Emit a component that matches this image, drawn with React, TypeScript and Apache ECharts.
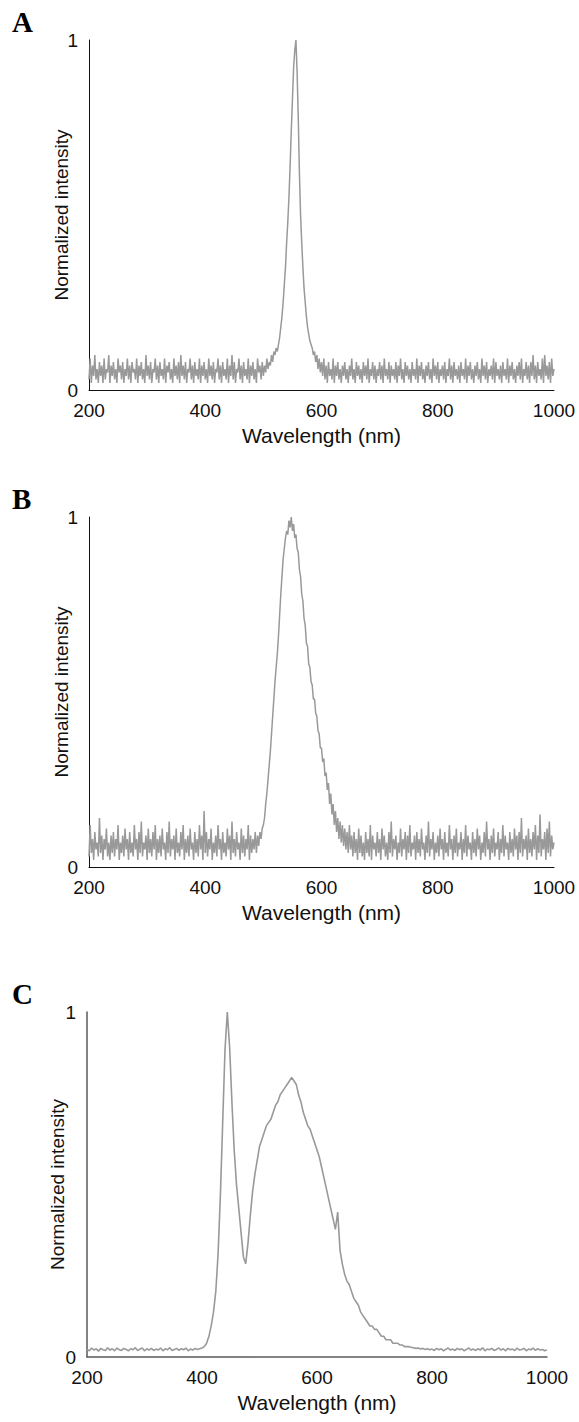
import React, { useEffect, useRef } from "react";
import * as echarts from "echarts";

// Sampling grids of the spectra (nm)
const START_NM = 200;
const STEP_AB_NM = 2;
const STEP_C_NM = 4;

const X_TICKS = [200, 400, 600, 800, 1000];
const Y_TICKS = [0, 1];
const PANEL_LABELS = ["A", "B", "C"];
const X_TITLE = "Wavelength (nm)";
const Y_TITLE = "Normalized intensity";

// Panel A: narrow emission peak near 556 nm (2 nm steps)
const SPECTRUM_A = [
  0.03, 0.09, 0.02, 0.07, 0.04, 0.10, 0.03, 0.06, 0.02, 0.08, 0.04, 0.07, 0.02, 0.09, 0.03, 0.06, 0.05, 0.10, 0.02, 0.07,
  0.04, 0.08, 0.03, 0.06, 0.02, 0.09, 0.05, 0.07, 0.03, 0.08, 0.02, 0.06, 0.04, 0.09, 0.03, 0.07, 0.02, 0.08, 0.05, 0.06,
  0.03, 0.09, 0.02, 0.07, 0.04, 0.08, 0.03, 0.06, 0.02, 0.10, 0.04, 0.07, 0.03, 0.08, 0.02, 0.06, 0.05, 0.09, 0.03, 0.07,
  0.02, 0.08, 0.04, 0.06, 0.03, 0.09, 0.02, 0.07, 0.05, 0.08, 0.03, 0.06, 0.02, 0.09, 0.04, 0.07, 0.03, 0.08, 0.02, 0.10,
  0.04, 0.07, 0.03, 0.08, 0.02, 0.06, 0.05, 0.09, 0.03, 0.07, 0.02, 0.08, 0.04, 0.06, 0.03, 0.09, 0.02, 0.07, 0.04, 0.08,
  0.03, 0.06, 0.02, 0.09, 0.04, 0.07, 0.03, 0.08, 0.02, 0.06, 0.05, 0.09, 0.03, 0.07, 0.02, 0.08, 0.04, 0.06, 0.03, 0.09,
  0.02, 0.07, 0.04, 0.10, 0.03, 0.08, 0.02, 0.06, 0.05, 0.09, 0.03, 0.07, 0.02, 0.08, 0.04, 0.06, 0.03, 0.09, 0.02, 0.07,
  0.04, 0.08, 0.03, 0.06, 0.02, 0.09, 0.05, 0.07, 0.03, 0.08, 0.04, 0.07, 0.05, 0.09, 0.06, 0.08, 0.07, 0.10, 0.08, 0.11,
  0.10, 0.12, 0.11, 0.13, 0.15, 0.18, 0.21, 0.25, 0.30, 0.35, 0.42, 0.48, 0.55, 0.64, 0.74, 0.83, 0.92, 0.97, 1.00, 0.91,
  0.78, 0.62, 0.50, 0.42, 0.35, 0.29, 0.25, 0.21, 0.18, 0.16, 0.14, 0.13, 0.12, 0.10, 0.11, 0.08, 0.10, 0.06, 0.09, 0.05,
  0.08, 0.04, 0.09, 0.03, 0.07, 0.02, 0.08, 0.04, 0.06, 0.03, 0.09, 0.02, 0.07, 0.04, 0.08, 0.03, 0.06, 0.02, 0.07, 0.04,
  0.08, 0.03, 0.06, 0.02, 0.07, 0.04, 0.09, 0.03, 0.06, 0.02, 0.08, 0.04, 0.07, 0.03, 0.06, 0.02, 0.08, 0.04, 0.07, 0.03,
  0.09, 0.02, 0.06, 0.04, 0.08, 0.03, 0.07, 0.02, 0.06, 0.04, 0.08, 0.03, 0.07, 0.02, 0.09, 0.04, 0.06, 0.03, 0.08, 0.02,
  0.07, 0.04, 0.06, 0.03, 0.08, 0.02, 0.07, 0.04, 0.09, 0.03, 0.06, 0.02, 0.08, 0.04, 0.07, 0.03, 0.06, 0.02, 0.08, 0.04,
  0.06, 0.03, 0.09, 0.02, 0.07, 0.04, 0.08, 0.03, 0.06, 0.02, 0.07, 0.04, 0.08, 0.03, 0.06, 0.02, 0.09, 0.04, 0.07, 0.03,
  0.08, 0.02, 0.06, 0.04, 0.07, 0.03, 0.08, 0.02, 0.06, 0.04, 0.09, 0.03, 0.07, 0.02, 0.08, 0.04, 0.06, 0.03, 0.07, 0.02,
  0.08, 0.04, 0.06, 0.03, 0.09, 0.02, 0.07, 0.04, 0.08, 0.03, 0.06, 0.02, 0.07, 0.04, 0.08, 0.03, 0.06, 0.02, 0.09, 0.04,
  0.07, 0.03, 0.08, 0.02, 0.06, 0.04, 0.07, 0.03, 0.09, 0.02, 0.08, 0.04, 0.06, 0.03, 0.07, 0.02, 0.08, 0.04, 0.06, 0.03,
  0.09, 0.02, 0.07, 0.04, 0.08, 0.03, 0.06, 0.02, 0.07, 0.04, 0.08, 0.03, 0.09, 0.02, 0.06, 0.04, 0.08, 0.03, 0.07, 0.02,
  0.08, 0.04, 0.10, 0.03, 0.07, 0.02, 0.08, 0.04, 0.06, 0.03, 0.09, 0.02, 0.10, 0.04, 0.07, 0.03, 0.08, 0.02, 0.09, 0.04,
  0.06,
];

// Panel B: broader asymmetric peak near 548 nm, noisier baseline (2 nm steps)
const SPECTRUM_B = [
  0.03, 0.12, 0.04, 0.08, 0.02, 0.10, 0.05, 0.07, 0.03, 0.14, 0.04, 0.09, 0.02, 0.08, 0.05, 0.11, 0.03, 0.07, 0.02, 0.09,
  0.04, 0.10, 0.03, 0.08, 0.05, 0.12, 0.02, 0.07, 0.04, 0.09, 0.03, 0.11, 0.05, 0.08, 0.02, 0.10, 0.04, 0.07, 0.03, 0.12,
  0.05, 0.08, 0.02, 0.10, 0.04, 0.13, 0.03, 0.07, 0.05, 0.09, 0.02, 0.11, 0.04, 0.08, 0.03, 0.10, 0.05, 0.12, 0.02, 0.08,
  0.04, 0.09, 0.03, 0.11, 0.05, 0.07, 0.02, 0.10, 0.04, 0.13, 0.03, 0.08, 0.05, 0.09, 0.02, 0.11, 0.04, 0.07, 0.03, 0.10,
  0.05, 0.12, 0.02, 0.08, 0.04, 0.09, 0.03, 0.11, 0.05, 0.07, 0.02, 0.10, 0.04, 0.08, 0.03, 0.12, 0.05, 0.09, 0.02, 0.16,
  0.04, 0.10, 0.03, 0.08, 0.05, 0.11, 0.02, 0.07, 0.04, 0.09, 0.03, 0.12, 0.05, 0.08, 0.02, 0.10, 0.04, 0.07, 0.03, 0.11,
  0.05, 0.09, 0.02, 0.13, 0.04, 0.08, 0.03, 0.10, 0.05, 0.07, 0.02, 0.11, 0.04, 0.09, 0.03, 0.08, 0.05, 0.12, 0.02, 0.09,
  0.04, 0.08, 0.05, 0.10, 0.04, 0.09, 0.06, 0.10, 0.08, 0.11, 0.12, 0.14, 0.18, 0.21, 0.25, 0.29, 0.33, 0.38, 0.43, 0.48,
  0.53, 0.57, 0.61, 0.66, 0.72, 0.78, 0.83, 0.88, 0.91, 0.94, 0.96, 0.95, 0.99, 0.97, 1.00, 0.96, 0.98, 0.94, 0.95, 0.91,
  0.90, 0.85, 0.83, 0.78, 0.76, 0.71, 0.69, 0.64, 0.63, 0.58, 0.57, 0.53, 0.52, 0.48, 0.48, 0.44, 0.43, 0.39, 0.38, 0.34,
  0.34, 0.30, 0.31, 0.26, 0.27, 0.22, 0.24, 0.18, 0.21, 0.15, 0.18, 0.12, 0.16, 0.10, 0.14, 0.08, 0.13, 0.07, 0.12, 0.06,
  0.11, 0.05, 0.10, 0.04, 0.12, 0.05, 0.09, 0.03, 0.10, 0.04, 0.08, 0.02, 0.11, 0.04, 0.09, 0.03, 0.07, 0.02, 0.10, 0.04,
  0.08, 0.03, 0.12, 0.02, 0.09, 0.05, 0.07, 0.03, 0.10, 0.04, 0.08, 0.02, 0.11, 0.05, 0.09, 0.03, 0.07, 0.02, 0.10, 0.04,
  0.13, 0.03, 0.08, 0.05, 0.09, 0.02, 0.07, 0.04, 0.11, 0.03, 0.08, 0.05, 0.10, 0.02, 0.09, 0.04, 0.12, 0.03, 0.07, 0.05,
  0.09, 0.02, 0.10, 0.04, 0.08, 0.03, 0.11, 0.05, 0.07, 0.02, 0.09, 0.04, 0.13, 0.03, 0.08, 0.05, 0.10, 0.02, 0.07, 0.04,
  0.09, 0.03, 0.11, 0.05, 0.08, 0.02, 0.10, 0.04, 0.07, 0.03, 0.12, 0.05, 0.08, 0.02, 0.09, 0.04, 0.11, 0.03, 0.07, 0.05,
  0.10, 0.02, 0.08, 0.04, 0.12, 0.03, 0.09, 0.05, 0.07, 0.02, 0.10, 0.04, 0.08, 0.03, 0.11, 0.05, 0.09, 0.02, 0.07, 0.04,
  0.10, 0.03, 0.13, 0.05, 0.08, 0.02, 0.09, 0.04, 0.11, 0.03, 0.07, 0.05, 0.10, 0.02, 0.08, 0.04, 0.12, 0.03, 0.09, 0.05,
  0.07, 0.02, 0.10, 0.04, 0.08, 0.03, 0.11, 0.05, 0.09, 0.02, 0.10, 0.04, 0.14, 0.03, 0.08, 0.05, 0.09, 0.02, 0.11, 0.04,
  0.08, 0.03, 0.10, 0.05, 0.12, 0.02, 0.09, 0.04, 0.15, 0.03, 0.08, 0.05, 0.10, 0.02, 0.11, 0.04, 0.13, 0.03, 0.09, 0.05,
  0.07,
];

// Panel C: blue peak near 444 nm plus broad band near 556 nm (4 nm steps)
const SPECTRUM_C = [
  0.022, 0.018, 0.026, 0.02, 0.024, 0.017, 0.025, 0.021, 0.019, 0.027,
  0.02, 0.024, 0.018, 0.026, 0.021, 0.019, 0.025, 0.022, 0.018, 0.024,
  0.021, 0.027, 0.019, 0.023, 0.026, 0.018, 0.024, 0.02, 0.025, 0.019,
  0.023, 0.02, 0.026, 0.018, 0.024, 0.021, 0.027, 0.019, 0.022, 0.025,
  0.019, 0.024, 0.021, 0.026, 0.018, 0.023, 0.02, 0.025, 0.022, 0.024,
  0.026, 0.03, 0.04, 0.06, 0.09, 0.13, 0.19, 0.30, 0.47, 0.68,
  0.89, 1.00, 0.90, 0.74, 0.60, 0.50, 0.43, 0.36, 0.29, 0.27,
  0.33, 0.41, 0.48, 0.53, 0.57, 0.61, 0.63, 0.65, 0.67, 0.68,
  0.69, 0.71, 0.73, 0.74, 0.76, 0.77, 0.78, 0.79, 0.80, 0.81,
  0.80, 0.79, 0.76, 0.74, 0.71, 0.69, 0.67, 0.66, 0.64, 0.62,
  0.60, 0.58, 0.55, 0.52, 0.49, 0.46, 0.43, 0.40, 0.37, 0.42,
  0.31, 0.27, 0.24, 0.22, 0.21, 0.19, 0.17, 0.16, 0.15, 0.13,
  0.12, 0.11, 0.10, 0.09, 0.09, 0.08, 0.08, 0.07, 0.06, 0.06,
  0.05, 0.05, 0.05, 0.04, 0.04, 0.04, 0.035, 0.035, 0.03, 0.03,
  0.03, 0.028, 0.027, 0.025, 0.026, 0.023, 0.025, 0.022, 0.024, 0.021,
  0.023, 0.019, 0.025, 0.021, 0.024, 0.018, 0.022, 0.026, 0.02, 0.023,
  0.019, 0.025, 0.021, 0.024, 0.018, 0.022, 0.026, 0.02, 0.023, 0.019,
  0.024, 0.02, 0.027, 0.018, 0.023, 0.021, 0.025, 0.019, 0.022, 0.026,
  0.02, 0.024, 0.018, 0.025, 0.021, 0.023, 0.019, 0.026, 0.02, 0.022,
  0.025, 0.018, 0.023, 0.021, 0.026, 0.019, 0.024, 0.02, 0.022, 0.018,
  0.02,
];

const SPECTRA = [SPECTRUM_A, SPECTRUM_B, SPECTRUM_C];
const STEPS = [STEP_AB_NM, STEP_AB_NM, STEP_C_NM];

function toPairs(values: number[], step: number) {
  return values.map((v, i) => [START_NM + i * step, v]);
}

const LAYOUT = [
  { left: 89, top: 40, width: 465, height: 350, axisColor: "#111", axisWidth: 1, lineWidth: 1.5, letterY: 22, yGap: 18 },
  { left: 89, top: 517, width: 465, height: 350, axisColor: "#111", axisWidth: 1, lineWidth: 1.5, letterY: 499, yGap: 18 },
  { left: 87, top: 1012, width: 460, height: 345, axisColor: "#5a5a5a", axisWidth: 1.5, lineWidth: 1.6, letterY: 994, yGap: 20 },
];

const SANS = "Liberation Sans, Arial, sans-serif";
const SERIF = "Liberation Serif, Times New Roman, serif";

export default function App() {
  const ref = useRef<HTMLDivElement>(null);

  useEffect(() => {
    if (!ref.current) return;
    const chart = echarts.init(ref.current, undefined, { renderer: "svg" });

    const grid = LAYOUT.map((p) => ({
      left: p.left,
      top: p.top,
      width: p.width,
      height: p.height,
      containLabel: false,
    }));

    const xAxis = LAYOUT.map((p, i) => ({
      gridIndex: i,
      type: "value",
      min: X_TICKS[0],
      max: X_TICKS[X_TICKS.length - 1],
      interval: X_TICKS[1] - X_TICKS[0],
      axisLine: { show: true, onZero: false, lineStyle: { color: p.axisColor, width: p.axisWidth } },
      axisTick: { show: false },
      splitLine: { show: false },
      axisLabel: {
        fontSize: 19,
        color: "#111",
        margin: 11,
        fontFamily: SANS,
        formatter: (v: number) => String(v),
      },
      name: X_TITLE,
      nameLocation: "middle",
      nameGap: 35,
      nameTextStyle: { fontSize: 21, color: "#111", fontFamily: SANS },
    }));

    const yAxis = LAYOUT.map((p, i) => ({
      gridIndex: i,
      type: "value",
      min: Y_TICKS[0],
      max: Y_TICKS[Y_TICKS.length - 1],
      interval: Y_TICKS[1] - Y_TICKS[0],
      axisLine: { show: true, onZero: false, lineStyle: { color: p.axisColor, width: p.axisWidth } },
      axisTick: { show: false },
      splitLine: { show: false },
      axisLabel: { fontSize: 19, color: "#111", margin: 11, fontFamily: SANS },
      name: Y_TITLE,
      nameLocation: "middle",
      nameGap: p.yGap,
      nameMoveOverlap: false,
      nameRotate: 90,
      nameTextStyle: { fontSize: 19, color: "#111", fontFamily: SANS },
    }));

    const series = SPECTRA.map((values, i) => ({
      type: "line",
      xAxisIndex: i,
      yAxisIndex: i,
      data: toPairs(values, STEPS[i]),
      showSymbol: false,
      symbol: "none",
      lineStyle: { color: "#999999", width: LAYOUT[i].lineWidth },
      silent: true,
    }));

    const graphic = PANEL_LABELS.map((label, i) => ({
      type: "text",
      left: 12,
      top: LAYOUT[i].letterY - 15,
      style: {
        text: label,
        fontSize: 29,
        fontWeight: "bold",
        fontFamily: SERIF,
        fill: "#000",
      },
    }));

    chart.setOption({
      animation: false,
      backgroundColor: "#fff",
      grid,
      xAxis,
      yAxis,
      series,
      graphic,
    });

    return () => chart.dispose();
  }, []);

  return (
    <div
      ref={ref}
      style={{ position: "absolute", left: 0, top: 0, width: 579, height: 1422 }}
    />
  );
}
